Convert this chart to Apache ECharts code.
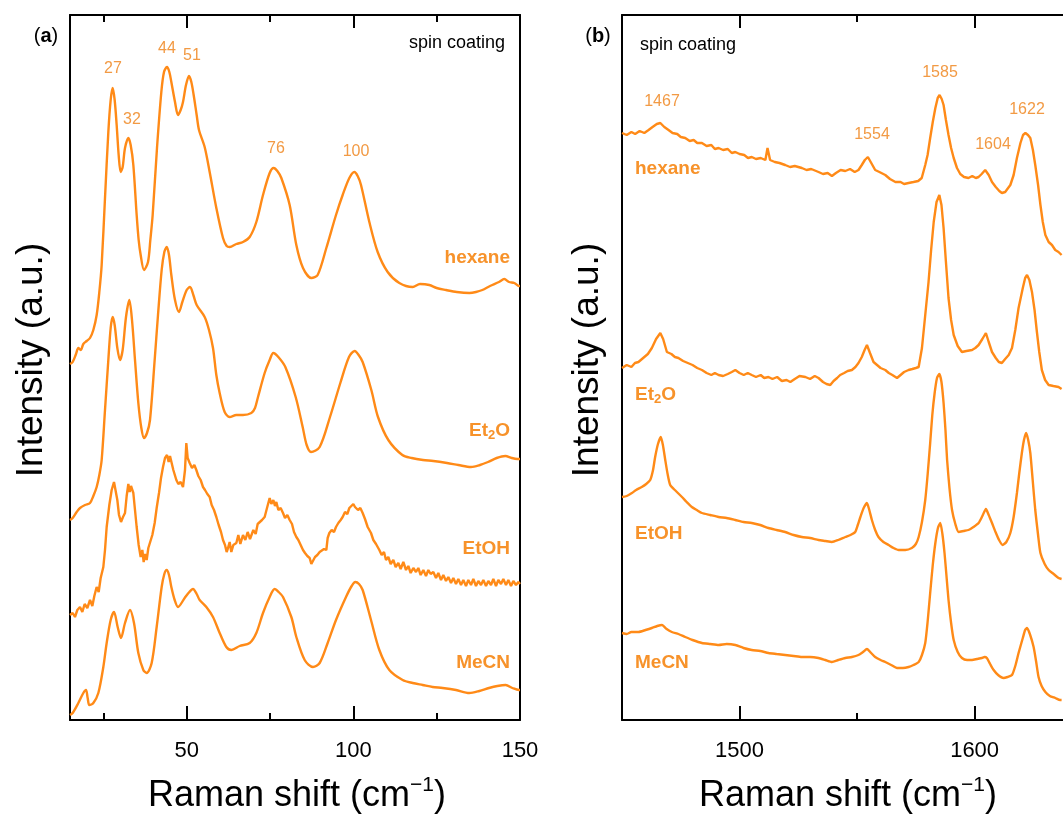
<!DOCTYPE html>
<html><head><meta charset="utf-8">
<script src="https://cdn.jsdelivr.net/npm/echarts@6/dist/echarts.min.js"></script>
<style>html,body{margin:0;padding:0;background:#fff}#c{width:1063px;height:832px}</style>
</head><body><div id="c"></div>
<script>
// ---- Panel (a): low-frequency region (x: Raman shift cm-1, y: offset intensity a.u.)
const hexaneA = [[15,356],[15.8,358],[16.8,366],[17.5,372],[18.2,370],[19,376],[20,379],[21,382],[22,390],[23,405],[23.8,428],[24.5,455],[25.5,522],[26.5,588],[27.2,620],[27.8,632],[28.4,620],[29,595],[29.6,565],[30.2,548],[30.8,553],[31.5,572],[32.5,582],[33.2,575],[34,555],[35,505],[35.6,480],[36.2,465],[37.2,450],[38.4,458],[39.1,480],[39.8,505],[41.1,572],[42.4,628],[43.2,648],[44.1,653],[44.8,648],[45.4,638],[46.5,618],[47.4,605],[48.2,610],[48.9,618],[49.8,635],[50.7,644],[51.4,638],[52.1,625],[53,605],[53.7,590],[55.4,573],[56.9,548],[58.9,512],[60.9,482],[62,474],[62.9,473],[64.9,476],[66.9,478],[68.9,483],[70.9,498],[72.9,525],[74.9,547],[76.1,552],[77.2,549],[78.4,542],[80.9,515],[82.9,475],[84.9,452],[87.4,442],[89.3,445],[91.9,472],[94.8,505],[96.8,525],[98.8,542],[100.3,548],[101.3,544],[102.3,535],[104.8,498],[107.3,468],[110.3,448],[113.8,437],[117.8,433],[120,436],[122.8,435],[125,432],[127.8,430],[131,428],[134.8,427],[136.8,428],[138.7,430],[141,434],[143.7,438],[145.3,441],[146.7,438],[148.3,437],[149.7,434],[150,434]];
const et2oA = [[15,200],[15.8,202],[17,208],[18,212],[19.5,215],[21,217],[22,224],[23,233],[23.8,245],[24.5,260],[25.5,310],[26.5,360],[27.2,392],[27.8,403],[28.4,395],[29.2,372],[30,360],[30.8,370],[31.8,403],[32.8,420],[33.6,400],[34.5,360],[35.5,317],[36.4,292],[37.2,282],[38.1,287],[39,300],[40.4,360],[41.4,405],[42.5,450],[43.3,468],[44,473],[44.7,465],[45.4,445],[46.5,420],[47.7,408],[48.7,418],[50,430],[51,433],[52,425],[53,415],[55.4,403],[56.7,390],[57.9,372],[58.9,345],[59.9,327],[61.4,308],[62.9,303],[64.9,305],[66.9,305],[69.4,307],[70.5,312],[71.4,323],[73.4,347],[74.9,360],[76,367],[77.5,363],[79.6,353],[82.7,323],[84.8,293],[86,275],[87.3,268],[89.9,273],[93,303],[96.1,337],[98.7,363],[100.4,369],[101.6,365],[102.8,358],[105.4,330],[107.4,303],[110.5,280],[114.7,265],[117.5,262],[120.9,260],[124,259],[128.1,257],[131.5,255],[135.3,253],[138,255],[140.4,258],[143,262],[145.6,264],[147.5,262],[149.2,261],[150,261]];
const etohA = [[15,105],[15.8,107],[16.5,103],[17.2,110],[18,113],[18.7,108],[19.4,116],[20.2,112],[21,120],[21.7,114],[22.3,124],[23,133],[23.6,128],[24.2,142],[25,153],[25.5,170],[26,193],[26.8,215],[27.5,230],[28.2,238],[28.7,236],[29.2,220],[29.7,205],[30.3,198],[30.9,203],[31.5,207],[32,224],[32.5,236],[32.9,228],[33.3,234],[34,227],[34.5,210],[35,193],[35.6,175],[36.2,163],[36.7,170],[37.1,158],[37.5,166],[38,160],[38.5,172],[39,173],[39.7,185],[40.4,197],[41,212],[41.7,227],[42.3,242],[42.9,253],[43.5,262],[44.1,265],[44.6,258],[45,264],[45.4,262],[46,250],[46.9,240],[47.5,236],[48.2,238],[48.9,233],[49.5,250],[49.9,277],[50.3,262],[50.9,257],[51.6,252],[52.3,255],[52.9,250],[53.5,244],[54.2,240],[54.9,233],[55.5,230],[56.2,226],[56.9,223],[57.5,215],[58.2,210],[58.9,203],[59.6,195],[60.3,188],[60.9,180],[61.5,175],[62,168],[62.4,172],[62.9,178],[63.4,168],[64,175],[64.9,177],[65.5,185],[66.1,176],[66.9,185],[67.6,180],[68.3,188],[69,181],[69.4,183],[70,190],[70.7,186],[71.3,196],[71.9,197],[72.6,200],[73.4,203],[74.1,212],[74.9,222],[75.4,216],[76,220],[76.5,214],[76.9,218],[77.5,210],[78.2,212],[78.9,207],[79.5,202],[80.2,205],[80.9,200],[81.6,196],[82.2,188],[82.9,183],[83.5,180],[84.2,175],[84.9,170],[85.5,167],[86.2,164],[86.9,162],[87.4,156],[87.9,157],[88.5,163],[89.2,165],[89.9,168],[90.5,167],[91.2,171],[91.9,170],[92.3,182],[92.8,187],[93.5,190],[94.2,188],[94.8,193],[95.5,197],[96.2,200],[96.8,203],[97.5,208],[98.2,206],[98.8,212],[99.4,211],[100,216],[100.5,213],[100.8,215],[101.4,210],[102.1,212],[102.8,207],[103.5,201],[104.3,193],[105.3,187],[106,180],[106.8,176],[107.8,170],[108.5,165],[109.2,168],[109.8,160],[110.5,163],[111.2,156],[112,160],[112.7,153],[113.5,157],[114.2,151],[115,158],[115.8,150],[116.5,154],[117.2,147],[118,152],[118.8,148],[119.5,152],[120.2,145],[121,150],[121.8,144],[122.5,150],[123.2,146],[124,148],[124.8,142],[125.5,147],[126.3,140],[127,145],[127.8,139],[128.5,143],[129.3,137],[130,142],[130.8,136],[131.5,141],[132.3,135],[133,140],[133.8,134],[134.5,140],[135.3,135],[136,141],[136.8,134],[137.5,139],[138.3,135],[139,140],[139.8,134],[140.5,139],[141.3,135],[142,141],[142.8,134],[143.5,140],[144.3,136],[145,141],[145.8,135],[146.5,140],[147.3,134],[148,139],[148.8,135],[149.5,138],[150,136]];
const mecnA = [[15,5],[15.8,7],[17.5,17],[19,27],[19.8,30],[20.3,22],[20.8,15],[22,17],[23.5,27],[25,53],[26,77],[27.2,100],[28.2,108],[29.3,93],[30.3,82],[31.5,97],[33,110],[34.2,97],[35.5,67],[37,50],[38,47],[39.5,57],[41,93],[42.5,133],[43.3,146],[44,150],[44.7,145],[45.4,133],[46.4,120],[47.4,113],[49.4,122],[50.8,128],[51.9,131],[53,126],[53.9,120],[55.9,113],[57.9,103],[59.9,87],[61.9,73],[63.4,70],[65.9,74],[68.9,77],[70.9,87],[72.9,107],[74.9,123],[76.4,131],[77.6,128],[78.9,123],[81.4,103],[82.9,83],[85.4,60],[87.9,53],[89.9,57],[92.3,77],[94.8,100],[97.8,123],[99.5,134],[100.6,138],[101.7,136],[102.8,130],[105.3,100],[107.8,70],[110.8,50],[114.8,40],[117.8,37],[120.8,35],[123.8,33],[126.8,32],[130.8,30],[134.8,27],[137.8,29],[140.7,32],[143.2,34],[145.7,35],[147.7,32],[149.7,30],[150,30]];

// ---- Panel (b): high-frequency region
const hexaneB = [[1450,587],[1452,585],[1454,588],[1455.6,586],[1457.5,589],[1459.5,587],[1461.3,590],[1463,593],[1464.8,596],[1466.3,597],[1468,593],[1469.8,590],[1471.5,587],[1473.5,586],[1475,583],[1476.9,582],[1478.8,579],[1480.5,580],[1482,577],[1484,577],[1486,574],[1488,575],[1489.5,571],[1491.1,572],[1493,570],[1495,571],[1496.7,567],[1498.2,568],[1500,566],[1502,565],[1503.6,562],[1505.2,563],[1507,561],[1509,562],[1511,560],[1511.9,572],[1513,560],[1515,558],[1517,557],[1519.4,555],[1521.5,553],[1523.5,554],[1526.5,552],[1528.5,550],[1530.5,551],[1533.6,548],[1535.5,546],[1537.5,547],[1539.3,544],[1541,547],[1543,550],[1545,549],[1547,551],[1549,548],[1550.6,550],[1552,555],[1553.3,560],[1554.6,563],[1555.8,558],[1557.7,550],[1559.5,548],[1562,545],[1564,541],[1566.3,538],[1568.5,538],[1570,536],[1571.9,537],[1574,538],[1576,539],[1577.5,542],[1579,555],[1580,565],[1581.1,582],[1582.2,598],[1583.3,612],[1584.3,622],[1585.1,625],[1586,621],[1586.8,615],[1587.8,600],[1588.9,585],[1590,572],[1591.1,562],[1592.5,552],[1593.9,546],[1595.5,543],[1597.4,542],[1599,544],[1600.5,542],[1601.7,543],[1603,546],[1604.5,550],[1606,545],[1607.4,538],[1609,533],[1610.5,529],[1611.6,527],[1613,528],[1615.2,535],[1616.6,545],[1618,562],[1619.5,577],[1620.6,585],[1621.6,587],[1622.7,585],[1623.7,582],[1624.8,570],[1625.8,555],[1627,535],[1628,515],[1629,498],[1630.1,485],[1631.5,478],[1632.9,475],[1634.3,470],[1635.7,468],[1637,465]];
const et2oB = [[1450,352],[1452,355],[1454,353],[1455.5,357],[1457,358],[1459,362],[1461,366],[1462.7,372],[1464.5,381],[1466.3,387],[1467.5,381],[1469.1,368],[1471,366],[1472.5,363],[1474,362],[1476,359],[1478,357],[1480,355],[1482,352],[1484,350],[1486,347],[1488,345],[1489.5,347],[1491.1,345],[1493,344],[1495,346],[1496.7,348],[1498.2,350],[1500,347],[1501.8,345],[1503.5,347],[1505.2,345],[1507,343],[1509,345],[1510.5,342],[1512.3,343],[1514,341],[1516,343],[1518,339],[1520,340],[1521.6,338],[1523.5,341],[1525.5,344],[1528,343],[1530,341],[1532,344],[1533.6,342],[1535.5,338],[1537,336],[1538.6,335],[1540,339],[1541.5,342],[1542.8,345],[1544.5,347],[1546,349],[1547.8,350],[1549.3,353],[1550.6,357],[1552,363],[1553.2,370],[1554.2,375],[1555.5,367],[1557,358],[1558.5,355],[1560,352],[1562,350],[1563.5,347],[1565,345],[1567,342],[1568.5,345],[1570,348],[1571.9,350],[1573.5,351],[1575,352],[1576.2,353],[1577.6,372],[1579,405],[1580.4,438],[1581.5,470],[1582.6,498],[1583.8,518],[1585,525],[1585.9,515],[1586.8,492],[1587.8,458],[1588.9,422],[1590,400],[1591.1,385],[1592.8,374],[1594.6,368],[1596.5,369],[1598.9,370],[1600.3,372],[1601.7,375],[1603.3,381],[1604.8,387],[1606,378],[1607.4,368],[1609,362],[1610.3,358],[1611.6,357],[1613,361],[1614.5,365],[1615.9,372],[1617.3,390],[1618.7,412],[1620.5,432],[1621.5,442],[1622.3,445],[1623.3,440],[1624.4,428],[1625.5,410],[1626.5,388],[1627.5,368],[1628.6,350],[1630,340],[1631.5,335],[1633.5,334],[1635.7,333],[1637,331]];
const etohB = [[1450,223],[1452,224],[1454.2,227],[1456,230],[1458.4,233],[1460.3,236],[1462,240],[1463.2,250],[1464.1,263],[1465.3,276],[1466.5,283],[1467.4,275],[1468.4,260],[1469.4,246],[1470.5,235],[1472.5,230],[1475.5,223],[1477.5,218],[1479.7,213],[1481.8,210],[1484,207],[1487.5,205],[1491.1,203],[1494.5,202],[1498.2,200],[1501.7,198],[1505.2,197],[1508.8,195],[1512.3,192],[1515.8,190],[1519.4,188],[1523,185],[1526.5,183],[1530,182],[1533.6,180],[1536.5,179],[1539.3,178],[1542,180],[1545,183],[1547.2,185],[1549.2,188],[1550.3,195],[1551.4,203],[1552.8,212],[1554.2,217],[1555.2,210],[1556.3,200],[1557.7,190],[1559.1,183],[1561.2,178],[1563.4,175],[1565.5,172],[1567.7,170],[1570.5,170],[1573.3,172],[1575,176],[1576.2,183],[1577.6,198],[1579,220],[1580,245],[1581.1,277],[1582,305],[1583,327],[1584,342],[1585,346],[1585.9,338],[1586.8,317],[1587.6,290],[1588.3,260],[1589.3,232],[1590.4,210],[1591.8,196],[1593.2,188],[1595.3,189],[1597.4,190],[1599.5,193],[1601.7,197],[1603.3,204],[1604.8,211],[1606,205],[1607.4,197],[1608.9,188],[1610.4,180],[1611.9,175],[1613.5,178],[1615.2,187],[1616.6,203],[1618,227],[1619,247],[1620.1,267],[1621,280],[1621.9,287],[1622.8,280],[1623.7,267],[1624.7,240],[1625.8,210],[1627,185],[1628,167],[1629.8,156],[1631.5,150],[1633.6,146],[1635.7,142],[1637,141]];
const mecnB = [[1450,87],[1452,86],[1454,88],[1457,88],[1460,90],[1462.7,92],[1465,94],[1467,95],[1469,91],[1471.2,88],[1474,86],[1476.9,83],[1480,80],[1484,77],[1487.5,76],[1491.1,75],[1494.5,76],[1498.2,75],[1501.7,72],[1505.2,70],[1508.8,69],[1512.3,67],[1515.8,66],[1519.4,65],[1523,64],[1526.5,63],[1530,63],[1533.6,62],[1536.5,60],[1539.3,58],[1542,60],[1545,62],[1547.8,63],[1550.6,65],[1552.5,68],[1554.2,71],[1556,67],[1557.7,63],[1560,60],[1562,58],[1564.5,55],[1567,52],[1569.5,52],[1571.9,53],[1574,55],[1576.2,58],[1577.6,65],[1579,77],[1580,98],[1581.1,127],[1582.2,155],[1583.3,177],[1584.4,192],[1585.4,197],[1586.3,186],[1587.2,167],[1588,145],[1588.9,120],[1590,97],[1591.1,80],[1592.8,68],[1594.6,62],[1596.8,60],[1598.9,60],[1601,61],[1603.1,62],[1604.2,63],[1605.2,62],[1606.6,56],[1608.1,50],[1610,45],[1612.3,42],[1614,43],[1615.9,45],[1617.3,54],[1618.7,67],[1620.5,82],[1621.5,90],[1622.3,92],[1623.5,86],[1625.1,73],[1626.2,58],[1627.2,43],[1628.5,34],[1630.1,28],[1632,24],[1634.3,22],[1636.4,20],[1637,20]];

// ---- Axis ranges, ticks, labels (panel b is cut at the right edge of the figure)
const xRangeA = [15, 150];
const xRangeB = [1450, 1637.6];
const yRange = [0, 705];
const majorA = [50, 100, 150];
const minorA = [25, 75, 125];
const majorB = [1500, 1600];
const minorB = [1550];
const peaksA = ['27', '32', '44', '51', '76', '100'];
const peaksB = ['1467', '1554', '1585', '1604', '1622'];
const solvents = ['hexane', 'Et2O', 'EtOH', 'MeCN'];

const LINE = '#FF8A17';
const PEAK = '#F29A44';
const NAME = '#F7922A';
const FONT = '"Liberation Sans", Arial, sans-serif';
const AXLINE = {show: true, onZero: false, lineStyle: {color: '#000', width: 2}};
const NOLINE = {show: false, onZero: false};

function xAx(gi, range, pos, vals, len, labels, line) {
  return {
    type: 'value', gridIndex: gi, min: range[0], max: range[1], position: pos, offset: 0,
    axisLine: line ? AXLINE : NOLINE, splitLine: {show: false},
    axisTick: {show: true, inside: true, length: len, customValues: vals, lineStyle: {color: '#000', width: 2}},
    axisLabel: labels ? {show: true, customValues: vals, fontSize: 22, color: '#000', fontFamily: FONT, margin: 20,
      formatter: v => String(v)} : {show: false}
  };
}
function yAx(gi, pos, line) {
  return {type: 'value', gridIndex: gi, min: yRange[0], max: yRange[1], position: pos, offset: 0,
    axisLine: line ? AXLINE : NOLINE, axisTick: {show: false}, axisLabel: {show: false}, splitLine: {show: false}};
}
function ser(data, xi, yi, smooth) {
  return {type: 'line', data: data, xAxisIndex: xi, yAxisIndex: yi, showSymbol: false, symbol: 'none',
    smooth: smooth, lineStyle: {color: LINE, width: 2.4}, itemStyle: {color: LINE}, animation: false, z: 3};
}

const peakPosA = [[113,69],[132,120],[167,49],[192,56],[276,149],[356,152]];
const peakPosB = [[662,102],[872,135],[940,73],[993,145],[1027,110]];
const namePosA = [[510,258],[510,431],[510,549],[510,663]];
const namePosB = [[635,169],[635,395],[635,534],[635,663]];

function solventRich(s) {
  if (s === 'Et2O') return '{b|Et}{s|2}{b|O}';
  return '{b|' + s + '}';
}
const nameRich = {
  b: {fontSize: 19, fontWeight: 'bold', fill: NAME, fontFamily: FONT, lineHeight: 22, verticalAlign: 'middle'},
  s: {fontSize: 13, fontWeight: 'bold', fill: NAME, fontFamily: FONT, lineHeight: 22, verticalAlign: 'bottom', padding: [8, 0, 0, 0]}
};

const graphics = [];
peaksA.forEach((t, i) => graphics.push({type: 'text', x: peakPosA[i][0], y: peakPosA[i][1],
  style: {text: t, fontSize: 16, fill: PEAK, fontFamily: FONT, align: 'center', verticalAlign: 'middle'}, z: 10}));
peaksB.forEach((t, i) => graphics.push({type: 'text', x: peakPosB[i][0], y: peakPosB[i][1],
  style: {text: t, fontSize: 16, fill: PEAK, fontFamily: FONT, align: 'center', verticalAlign: 'middle'}, z: 10}));
solvents.forEach((s, i) => {
  graphics.push({type: 'text', x: namePosA[i][0], y: namePosA[i][1],
    style: {text: solventRich(s), rich: nameRich, fill: NAME, align: 'right', verticalAlign: 'middle'}, z: 10});
  graphics.push({type: 'text', x: namePosB[i][0], y: namePosB[i][1],
    style: {text: solventRich(s), rich: nameRich, fill: NAME, align: 'left', verticalAlign: 'middle'}, z: 10});
});
const panelRich = {
  n: {fontSize: 20, fill: '#000', fontFamily: FONT},
  b: {fontSize: 20, fill: '#000', fontWeight: 'bold', fontFamily: FONT}
};
graphics.push({type: 'text', x: 46, y: 36, style: {text: '{n|(}{b|a}{n|)}', rich: panelRich, align: 'center', verticalAlign: 'middle'}, z: 10});
graphics.push({type: 'text', x: 598, y: 36, style: {text: '{n|(}{b|b}{n|)}', rich: panelRich, align: 'center', verticalAlign: 'middle'}, z: 10});
graphics.push({type: 'text', x: 505, y: 43, style: {text: 'spin coating', fontSize: 18, fill: '#000', fontFamily: FONT, align: 'right', verticalAlign: 'middle'}, z: 10});
graphics.push({type: 'text', x: 640, y: 45, style: {text: 'spin coating', fontSize: 18, fill: '#000', fontFamily: FONT, align: 'left', verticalAlign: 'middle'}, z: 10});
const titleRich = {
  a: {fontSize: 36, fill: '#000', fontFamily: FONT, lineHeight: 42, verticalAlign: 'middle'},
  p: {fontSize: 21, fill: '#000', fontFamily: FONT, lineHeight: 42, verticalAlign: 'top'}
};
graphics.push({type: 'text', x: 297, y: 796, style: {text: '{a|Raman shift (cm}{p|\u22121}{a|)}', rich: titleRich, align: 'center', verticalAlign: 'middle'}, z: 10});
graphics.push({type: 'text', x: 848, y: 796, style: {text: '{a|Raman shift (cm}{p|\u22121}{a|)}', rich: titleRich, align: 'center', verticalAlign: 'middle'}, z: 10});
graphics.push({type: 'text', x: 32, y: 360, rotation: Math.PI / 2, style: {text: 'Intensity (a.u.)', fontSize: 37, fill: '#000', fontFamily: FONT, align: 'center', verticalAlign: 'middle'}, z: 10});
graphics.push({type: 'text', x: 588, y: 360, rotation: Math.PI / 2, style: {text: 'Intensity (a.u.)', fontSize: 37, fill: '#000', fontFamily: FONT, align: 'center', verticalAlign: 'middle'}, z: 10});

const chart = echarts.init(document.getElementById('c'), null, {renderer: 'canvas'});
chart.setOption({
  backgroundColor: '#ffffff',
  animation: false,
  grid: [
    {left: 70, top: 15, width: 450, height: 705, show: false},
    {left: 622, top: 15, width: 441, height: 705, show: false}
  ],
  xAxis: [
    xAx(0, xRangeA, 'bottom', majorA, 14, true, true),
    xAx(0, xRangeA, 'bottom', minorA, 7, false, false),
    xAx(0, xRangeA, 'top', majorA, 13, false, true),
    xAx(0, xRangeA, 'top', minorA, 7, false, false),
    xAx(1, xRangeB, 'bottom', majorB, 14, true, true),
    xAx(1, xRangeB, 'bottom', minorB, 7, false, false),
    xAx(1, xRangeB, 'top', majorB, 13, false, true),
    xAx(1, xRangeB, 'top', minorB, 7, false, false)
  ],
  yAxis: [yAx(0, 'left', true), yAx(0, 'right', true), yAx(1, 'left', true)],
  series: [
    ser(hexaneA, 0, 0, 0.3), ser(et2oA, 0, 0, 0.3), ser(etohA, 0, 0, false), ser(mecnA, 0, 0, 0.3),
    ser(hexaneB, 4, 2, false), ser(et2oB, 4, 2, false), ser(etohB, 4, 2, 0.2), ser(mecnB, 4, 2, 0.2)
  ],
  graphic: graphics
});
</script></body></html>
